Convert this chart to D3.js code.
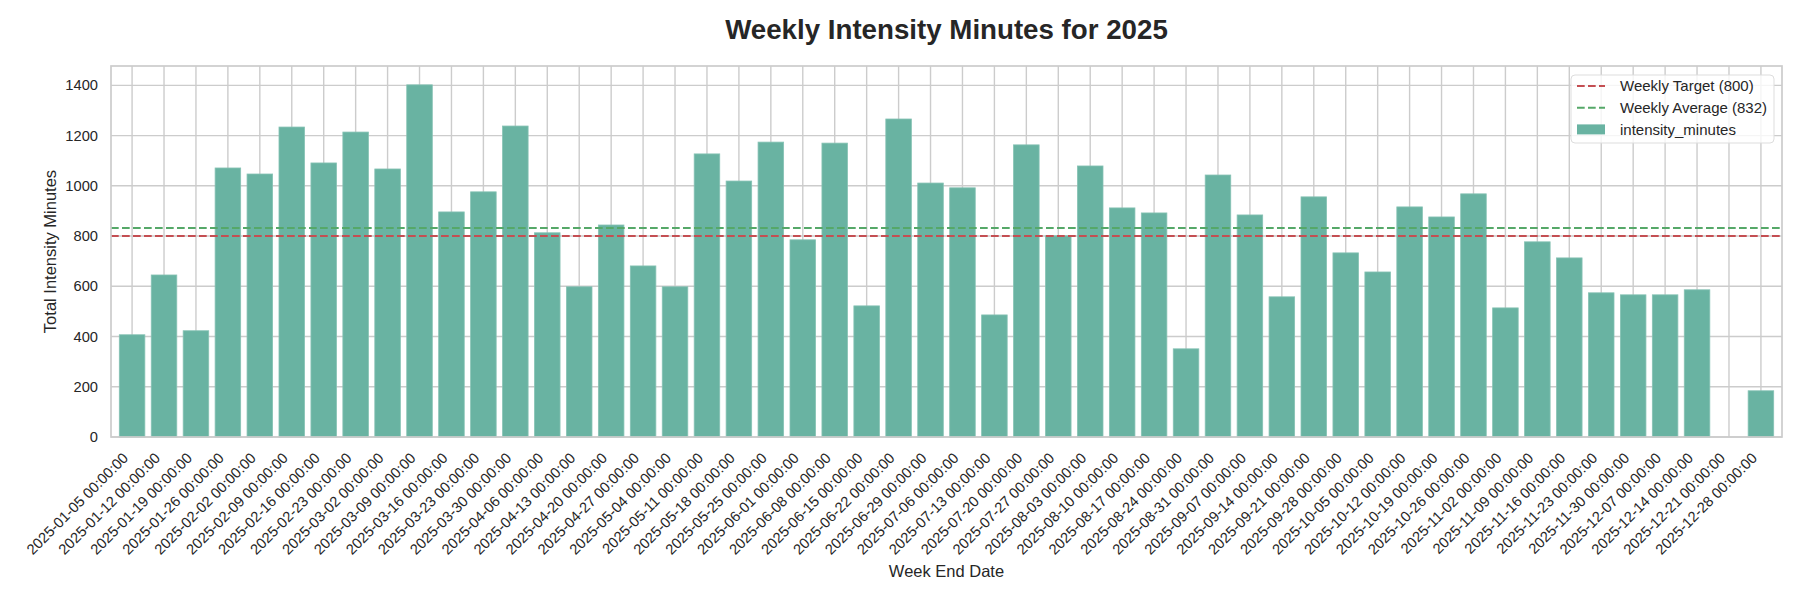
<!DOCTYPE html>
<html>
<head>
<meta charset="utf-8">
<script src="https://cdn.jsdelivr.net/npm/d3@7"></script>
<style>
  body { margin: 0; background: #fff; }
  text { font-family: "Liberation Sans", Arial, sans-serif; fill: #262626; }
</style>
</head>
<body>
<div id="chart"></div>
<script>
// weekly totals
const weekEnds = [
  "2025-01-05","2025-01-12","2025-01-19","2025-01-26","2025-02-02","2025-02-09","2025-02-16",
  "2025-02-23","2025-03-02","2025-03-09","2025-03-16","2025-03-23","2025-03-30","2025-04-06",
  "2025-04-13","2025-04-20","2025-04-27","2025-05-04","2025-05-11","2025-05-18","2025-05-25",
  "2025-06-01","2025-06-08","2025-06-15","2025-06-22","2025-06-29","2025-07-06","2025-07-13",
  "2025-07-20","2025-07-27","2025-08-03","2025-08-10","2025-08-17","2025-08-24","2025-08-31",
  "2025-09-07","2025-09-14","2025-09-21","2025-09-28","2025-10-05","2025-10-12","2025-10-19",
  "2025-10-26","2025-11-02","2025-11-09","2025-11-16","2025-11-23","2025-11-30","2025-12-07",
  "2025-12-14","2025-12-21","2025-12-28"
];
const intensityMinutes = [
  407, 645, 423, 1071, 1047, 1234, 1091, 1214, 1067, 1402, 896, 976, 1238, 813,
  598, 844, 681, 598, 1127, 1019, 1174, 785, 1170, 522, 1266, 1011, 992, 486,
  1163, 801, 1079, 912, 892, 351, 1043, 884, 558, 956, 733, 657, 916, 876,
  968, 514, 777, 713, 574, 566, 566, 586, 0, 184
];
const yTicks = [0, 200, 400, 600, 800, 1000, 1200, 1400];
const weeklyTarget = 800;
const weeklyAverage = 832;
const legendLabels = ["Weekly Target (800)", "Weekly Average (832)", "intensity_minutes"];

const width = 1800, height = 600;
const margin = {top: 66, right: 18, bottom: 163, left: 111};
const innerW = width - margin.left - margin.right;
const innerH = height - margin.top - margin.bottom;

const barColor = "#69b3a2";
const gridColor = "#cccccc";
const redColor = "#c44e52";
const greenColor = "#55a868";

const data = weekEnds.map((d, i) => ({week: d + " 00:00:00", value: intensityMinutes[i]}));

const svg = d3.select("#chart").append("svg")
  .attr("width", width)
  .attr("height", height)
  .style("background", "#fff");

const g = svg.append("g")
  .attr("transform", `translate(${margin.left},${margin.top})`);

const x = d3.scaleBand()
  .domain(data.map(d => d.week))
  .range([0, innerW])
  .paddingInner(0.2)
  .paddingOuter(0.26);

const y = d3.scaleLinear()
  .domain([0, 1477])
  .range([innerH, 0]);

// grid, drawn under the bars
g.append("g")
  .selectAll("line")
  .data(yTicks)
  .join("line")
  .attr("x1", 0).attr("x2", innerW)
  .attr("y1", d => y(d)).attr("y2", d => y(d))
  .attr("stroke", gridColor)
  .attr("stroke-width", 1.4);

g.append("g")
  .selectAll("line")
  .data(data)
  .join("line")
  .attr("x1", d => x(d.week) + x.bandwidth() / 2)
  .attr("x2", d => x(d.week) + x.bandwidth() / 2)
  .attr("y1", 0).attr("y2", innerH)
  .attr("stroke", gridColor)
  .attr("stroke-width", 1.4);

// bars
g.append("g")
  .selectAll("rect")
  .data(data.filter(d => d.value > 0))
  .join("rect")
  .attr("x", d => x(d.week))
  .attr("y", d => y(d.value))
  .attr("width", x.bandwidth())
  .attr("height", d => innerH - y(d.value))
  .attr("fill", barColor)
  .attr("stroke", "#86c2b4")
  .attr("stroke-width", 0.8);

// reference lines
const refLines = [
  {value: weeklyTarget, color: redColor},
  {value: weeklyAverage, color: greenColor}
];
g.append("g")
  .selectAll("line")
  .data(refLines)
  .join("line")
  .attr("x1", 0).attr("x2", innerW)
  .attr("y1", d => y(d.value)).attr("y2", d => y(d.value))
  .attr("stroke", d => d.color)
  .attr("stroke-width", 2.1)
  .attr("stroke-dasharray", "7.7,3.3");

// frame
g.append("rect")
  .attr("width", innerW)
  .attr("height", innerH)
  .attr("fill", "none")
  .attr("stroke", gridColor)
  .attr("stroke-width", 1.7);

// y tick labels
g.append("g")
  .selectAll("text")
  .data(yTicks)
  .join("text")
  .attr("x", -13)
  .attr("y", d => y(d))
  .attr("dy", "0.35em")
  .attr("text-anchor", "end")
  .style("font-size", "14.7px")
  .text(d => d);

// x tick labels, rotated 45
g.append("g")
  .selectAll("text")
  .data(data)
  .join("text")
  .attr("text-anchor", "end")
  .attr("transform", d => `translate(${x(d.week) + x.bandwidth() / 2 - 3},${innerH + 22}) rotate(-45)`)
  .style("font-size", "14.7px")
  .text(d => d.week);

// axis titles
svg.append("text")
  .attr("x", margin.left + innerW / 2)
  .attr("y", 577)
  .attr("text-anchor", "middle")
  .style("font-size", "16.5px")
  .text("Week End Date");

svg.append("text")
  .attr("transform", `translate(56,${margin.top + innerH / 2}) rotate(-90)`)
  .attr("text-anchor", "middle")
  .style("font-size", "16.5px")
  .text("Total Intensity Minutes");

svg.append("text")
  .attr("x", margin.left + innerW / 2)
  .attr("y", 39)
  .attr("text-anchor", "middle")
  .style("font-size", "27.7px")
  .style("font-weight", "bold")
  .text("Weekly Intensity Minutes for 2025");

// legend
const legend = svg.append("g").attr("transform", "translate(1571,75)");
legend.append("rect")
  .attr("width", 203)
  .attr("height", 68)
  .attr("rx", 4)
  .attr("fill", "#fff")
  .attr("fill-opacity", 0.8)
  .attr("stroke", "#dddddd")
  .attr("stroke-width", 1);

const rows = legend.selectAll("g.row")
  .data(legendLabels)
  .join("g")
  .attr("class", "row")
  .attr("transform", (d, i) => `translate(0,${11 + i * 21.7})`);

rows.filter((d, i) => i < 2)
  .append("line")
  .attr("x1", 6).attr("x2", 34)
  .attr("stroke", (d, i) => i === 0 ? redColor : greenColor)
  .attr("stroke-width", 2.1)
  .attr("stroke-dasharray", "7.7,3.3");

rows.filter((d, i) => i === 2)
  .append("rect")
  .attr("x", 6).attr("y", -5)
  .attr("width", 28).attr("height", 10)
  .attr("fill", barColor);

rows.append("text")
  .attr("x", 49)
  .attr("dy", "0.35em")
  .style("font-size", "15px")
  .text(d => d);
</script>
</body>
</html>
